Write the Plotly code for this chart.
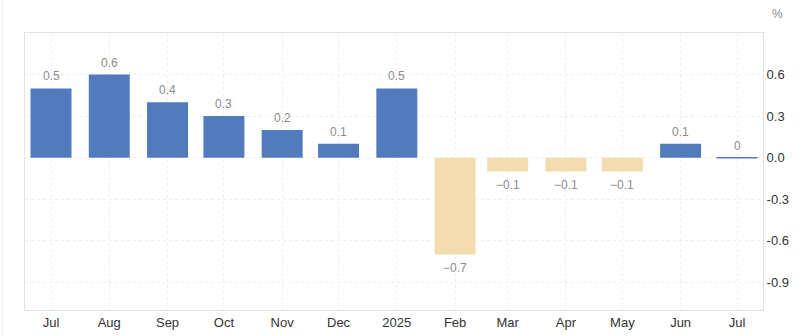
import plotly.graph_objects as go

months = ["2024-07-01", "2024-08-01", "2024-09-01", "2024-10-01", "2024-11-01", "2024-12-01",
          "2025-01-01", "2025-02-01", "2025-03-01", "2025-04-01", "2025-05-01", "2025-06-01", "2025-07-01"]
tick_labels = ["Jul", "Aug", "Sep", "Oct", "Nov", "Dec", "2025", "Feb", "Mar", "Apr", "May", "Jun", "Jul"]
values = [0.5, 0.6, 0.4, 0.3, 0.2, 0.1, 0.5, -0.7, -0.1, -0.1, -0.1, 0.1, 0]
value_labels = ["0.5", "0.6", "0.4", "0.3", "0.2", "0.1", "0.5", "−0.7", "−0.1", "−0.1", "−0.1", "0.1", "0"]
y_ticks = [0.6, 0.3, 0.0, -0.3, -0.6, -0.9]
y_tick_labels = ["0.6", "0.3", "0.0", "-0.3", "-0.6", "-0.9"]

BLUE = "#517bbd"
BEIGE = "#f3ddb0"
colors = [BLUE if v >= 0 else BEIGE for v in values]
line_widths = [1.5 if v == 0 else 0 for v in values]

fig = go.Figure()
fig.add_trace(go.Bar(
    x=months, y=values,
    marker=dict(color=colors, line=dict(color=colors, width=line_widths)),
    width=21.8 * 86400000,
    hoverinfo="skip",
))

for d, v, t in zip(months, values, value_labels):
    fig.add_annotation(
        x=d, y=v, text=t, showarrow=False,
        yshift=12 if v >= 0 else -13,
        yanchor="middle",
        font=dict(family="Liberation Sans, Arial, sans-serif", size=12, color="#8c8c8c"),
    )

fig.add_annotation(
    xref="paper", yref="paper", x=1.02, y=1.069, text="%", showarrow=False,
    xanchor="center", yanchor="middle",
    font=dict(family="Liberation Sans, Arial, sans-serif", size=12, color="#8c8c8c"),
)

fig.add_shape(type="line", xref="paper", yref="paper", x0=-0.031, x1=-0.031, y0=-0.1, y1=1.12,
              line=dict(color="#efefef", width=1))

fig.update_layout(
    width=800, height=336,
    margin=dict(l=25, r=37, t=33, b=26),
    paper_bgcolor="white", plot_bgcolor="white",
    showlegend=False,
    font=dict(family="Liberation Sans, Arial, sans-serif", size=13, color="#333333"),
    xaxis=dict(
        type="date", automargin=False,
        range=["2024-06-17 04:00", "2025-07-14 20:00"],
        tickmode="array", tickvals=months, ticktext=tick_labels,
        showgrid=True, gridcolor="#efefef", griddash="dot", gridwidth=1,
        showline=True, linecolor="#e3e3e3", mirror=True,
        ticks="", ticklen=0, tickfont=dict(size=13, color="#333333"),
        zeroline=False,
    ),
    yaxis=dict(
        side="right", automargin=False,
        range=[-1.1, 0.9],
        tickmode="array", tickvals=y_ticks, ticktext=y_tick_labels,
        showgrid=True, gridcolor="#efefef", griddash="dot", gridwidth=1,
        showline=True, linecolor="#e3e3e3", mirror=True,
        ticks="", tickfont=dict(size=13, color="#333333"),
        zeroline=False,
    ),
)

fig.write_html("out.html")
